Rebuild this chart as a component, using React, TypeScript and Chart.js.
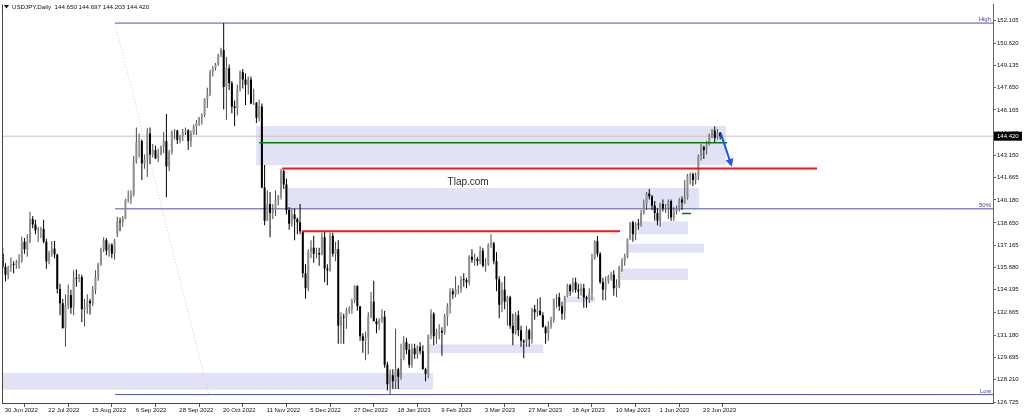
import React, { useEffect, useRef } from 'react';
import { Chart, registerables } from 'chart.js';

Chart.register(...registerables);

// ---- Daily OHLC, 30 Jun 2022 .. 4 Jul 2023 (bar index 0..263) ----
const OPEN: number[] = [
  136.60, 135.72, 135.20, 135.70, 135.90, 135.85, 136.00, 136.10, 137.40, 136.90,
  137.40, 138.90, 138.55, 138.15, 138.20, 138.25, 137.40, 136.10, 136.65, 136.95,
  136.55, 134.25, 133.30, 131.65, 133.15, 133.85, 133.00, 135.00, 134.95, 135.05,
  132.90, 133.00, 133.45, 133.30, 134.20, 135.00, 135.90, 136.90, 137.50, 136.80,
  137.20, 136.60, 137.90, 138.75, 138.70, 138.95, 140.20, 140.25, 140.50, 142.75,
  144.00, 144.10, 142.60, 142.85, 144.60, 143.20, 143.50, 142.95, 143.20, 143.70,
  144.10, 142.40, 143.35, 144.75, 144.80, 144.15, 144.45, 144.70, 144.80, 144.10,
  144.60, 145.10, 145.30, 145.65, 145.80, 146.90, 147.20, 148.70, 148.95, 149.20,
  149.85, 150.15, 147.70, 148.95, 147.95, 146.40, 146.30, 147.55, 148.70, 148.20,
  147.85, 148.20, 146.60, 146.65, 145.65, 146.40, 141.00, 138.80, 139.90, 139.30,
  139.50, 140.20, 140.40, 142.10, 141.20, 139.50, 138.60, 139.20, 138.90, 138.70,
  138.10, 135.30, 134.30, 136.70, 137.00, 136.60, 136.65, 136.55, 137.70, 135.60,
  135.50, 137.80, 136.60, 136.90, 131.80, 132.40, 132.35, 132.80, 132.90, 133.50,
  134.45, 133.10, 131.10, 130.80, 131.00, 132.40, 133.40, 132.10, 131.90, 132.20,
  132.40, 129.20, 127.90, 128.50, 128.10, 128.90, 128.40, 129.60, 130.70, 130.20,
  129.20, 130.30, 129.90, 130.40, 130.10, 128.90, 128.60, 131.20, 132.60, 131.10,
  131.40, 131.45, 131.35, 132.40, 133.10, 134.10, 133.90, 134.20, 134.25, 134.90,
  134.85, 134.70, 136.40, 136.20, 136.25, 136.10, 136.80, 135.80, 135.90, 137.20,
  137.30, 136.10, 134.90, 133.20, 134.20, 133.40, 133.70, 131.80, 131.30, 132.50,
  131.50, 130.80, 130.70, 131.50, 130.90, 132.90, 132.70, 132.80, 132.50, 131.70,
  131.30, 131.80, 132.20, 133.60, 133.70, 133.10, 132.60, 133.75, 134.50, 134.10,
  134.70, 134.20, 134.10, 134.30, 133.70, 133.60, 133.90, 136.30, 137.45, 136.60,
  134.70, 134.20, 134.80, 135.10, 135.20, 134.30, 134.50, 135.70, 136.10, 136.40,
  137.60, 138.70, 137.90, 138.60, 138.55, 139.30, 139.90, 140.60, 140.40, 139.80,
  139.30, 138.80, 139.90, 139.60, 139.65, 140.10, 139.00, 139.40, 139.60, 140.20,
  140.00, 140.30, 141.80, 141.90, 141.50, 141.80, 143.10, 143.70, 143.50, 143.90,
  144.50, 144.80, 144.30, 144.65,
];
const HIGH: number[] = [
  136.99, 135.96, 135.80, 136.35, 136.10, 136.20, 136.57, 137.75, 137.65, 137.90,
  139.39, 139.10, 138.85, 138.40, 138.40, 138.85, 137.60, 136.80, 137.45, 137.45,
  136.60, 134.60, 133.60, 133.90, 134.55, 134.20, 135.50, 135.55, 135.25, 135.20,
  133.60, 133.90, 133.60, 134.45, 135.50, 136.00, 137.00, 137.70, 137.65, 137.30,
  137.30, 137.60, 139.05, 139.00, 139.10, 140.25, 140.80, 140.80, 143.10, 145.00,
  144.60, 144.20, 143.20, 144.95, 145.00, 143.90, 143.80, 143.60, 143.80, 144.70,
  145.90, 143.50, 144.80, 144.90, 144.85, 144.50, 144.90, 145.00, 144.90, 144.80,
  145.20, 145.50, 145.70, 145.95, 146.95, 147.65, 148.85, 149.10, 149.30, 149.90,
  150.30, 151.95, 149.70, 149.20, 148.10, 146.80, 147.85, 148.80, 148.90, 148.60,
  148.40, 148.40, 147.60, 146.70, 146.85, 146.60, 142.50, 140.80, 140.70, 139.90,
  140.80, 140.50, 142.25, 142.20, 141.60, 139.70, 139.60, 139.60, 139.00, 139.90,
  138.10, 135.90, 136.90, 137.50, 137.80, 137.00, 137.00, 138.00, 138.10, 135.90,
  138.00, 138.00, 137.40, 137.50, 132.70, 132.60, 133.00, 133.10, 133.60, 134.50,
  134.50, 133.10, 131.30, 131.40, 132.70, 134.05, 134.80, 132.30, 132.30, 132.90,
  132.80, 129.40, 128.90, 128.90, 131.60, 129.00, 130.60, 131.10, 131.00, 130.60,
  130.60, 130.60, 130.50, 130.70, 130.50, 129.00, 131.20, 132.90, 132.70, 131.60,
  131.90, 131.70, 132.60, 133.30, 134.30, 134.30, 135.10, 134.50, 135.10, 135.30,
  135.00, 136.50, 136.90, 136.60, 136.40, 137.10, 137.00, 136.30, 137.30, 137.90,
  137.40, 136.70, 135.10, 134.70, 135.10, 133.80, 133.80, 132.60, 132.70, 132.80,
  131.80, 130.90, 131.80, 131.60, 133.00, 133.20, 133.60, 133.70, 132.70, 131.80,
  132.10, 132.40, 133.60, 133.90, 134.00, 133.40, 133.80, 134.60, 134.60, 135.00,
  135.00, 134.60, 134.60, 134.60, 133.80, 134.30, 136.60, 137.50, 137.78, 136.70,
  135.00, 135.10, 135.20, 135.40, 135.50, 134.90, 135.80, 136.30, 136.60, 137.60,
  138.70, 138.80, 138.70, 138.90, 139.50, 140.20, 140.70, 140.90, 140.50, 140.10,
  139.60, 140.00, 140.20, 139.90, 140.20, 140.20, 139.70, 139.80, 140.30, 140.40,
  141.50, 141.90, 142.00, 142.00, 142.00, 143.20, 143.90, 143.80, 144.10, 144.60,
  144.90, 145.07, 144.90, 144.697,
];
const LOW: number[] = [
  135.55, 134.75, 134.90, 135.40, 135.30, 135.60, 135.60, 136.00, 136.60, 136.40,
  137.30, 138.30, 137.90, 137.40, 137.65, 137.30, 135.60, 135.90, 136.40, 136.30,
  133.95, 132.50, 131.60, 130.40, 132.90, 132.60, 132.50, 134.40, 134.70, 132.05,
  131.75, 132.60, 132.55, 133.10, 133.90, 134.80, 135.80, 136.70, 136.50, 136.40,
  136.30, 136.20, 137.70, 138.10, 138.40, 138.90, 140.00, 139.90, 140.40, 142.60,
  143.00, 141.50, 142.25, 141.70, 142.55, 143.00, 142.90, 142.70, 143.15, 143.30,
  140.35, 142.10, 143.20, 144.20, 143.90, 143.95, 144.10, 144.50, 143.50, 143.70,
  144.50, 144.50, 145.10, 145.20, 145.70, 146.30, 147.10, 148.40, 148.80, 149.10,
  149.70, 146.20, 145.50, 147.50, 145.95, 145.10, 145.80, 147.40, 147.60, 146.50,
  147.20, 146.55, 146.50, 145.30, 145.40, 140.95, 138.50, 138.80, 137.70, 138.90,
  139.10, 139.80, 140.20, 140.90, 139.20, 138.20, 138.40, 137.50, 137.90, 137.90,
  135.00, 133.60, 134.10, 136.30, 136.00, 136.30, 135.80, 136.50, 134.70, 134.50,
  135.40, 136.40, 136.10, 130.60, 130.60, 130.60, 131.60, 132.60, 132.60, 133.30,
  132.80, 130.80, 130.00, 129.50, 129.90, 132.30, 132.10, 131.30, 131.50, 132.00,
  129.00, 127.50, 127.22, 127.60, 127.60, 127.60, 128.20, 129.50, 129.90, 129.00,
  129.00, 129.60, 129.60, 129.90, 128.90, 128.10, 128.30, 130.90, 130.50, 130.60,
  130.90, 129.80, 131.20, 131.80, 132.60, 133.60, 133.70, 133.90, 134.00, 134.40,
  134.30, 134.50, 136.00, 135.80, 135.80, 135.90, 135.70, 135.40, 135.80, 137.00,
  135.90, 134.10, 132.30, 132.70, 132.90, 131.80, 131.60, 130.50, 131.20, 131.10,
  130.40, 129.64, 130.40, 130.40, 130.60, 132.20, 132.40, 132.50, 131.70, 130.60,
  130.80, 131.60, 132.00, 133.00, 132.80, 132.20, 132.20, 133.70, 133.80, 134.00,
  134.00, 133.60, 133.80, 133.00, 133.00, 133.30, 133.50, 136.20, 136.40, 134.60,
  133.50, 133.50, 134.60, 134.80, 133.80, 133.70, 134.30, 135.40, 135.80, 136.30,
  137.50, 137.40, 137.50, 138.20, 138.40, 139.20, 139.50, 140.20, 139.50, 138.80,
  138.50, 138.40, 139.40, 139.30, 138.90, 138.80, 138.80, 139.20, 139.40, 139.50,
  139.90, 140.20, 141.20, 141.10, 141.20, 141.50, 142.80, 142.90, 143.20, 143.80,
  144.30, 144.00, 144.20, 144.203,
];
const CLOSE: number[] = [
  135.72, 135.20, 135.70, 135.90, 135.85, 136.00, 136.10, 137.40, 136.90, 137.40,
  138.90, 138.55, 138.15, 138.20, 138.25, 137.40, 136.10, 136.65, 136.95, 136.55,
  134.25, 133.30, 131.65, 133.15, 133.85, 133.00, 135.00, 134.95, 135.05, 132.90,
  133.00, 133.45, 133.30, 134.20, 135.00, 135.90, 136.90, 137.50, 136.80, 137.20,
  136.60, 137.50, 138.75, 138.70, 138.95, 140.20, 140.25, 140.50, 142.75, 144.00,
  144.10, 142.60, 142.85, 144.60, 143.20, 143.50, 142.95, 143.20, 143.70, 144.10,
  142.40, 143.35, 144.75, 144.80, 144.15, 144.45, 144.70, 144.80, 144.10, 144.60,
  145.10, 145.30, 145.65, 145.80, 146.90, 147.20, 148.70, 148.95, 149.20, 149.85,
  150.15, 147.70, 148.95, 147.95, 146.40, 146.30, 147.55, 148.70, 148.20, 147.85,
  148.20, 146.60, 146.65, 145.65, 146.40, 141.00, 138.80, 139.90, 139.30, 139.50,
  140.20, 140.40, 142.10, 141.20, 139.50, 138.60, 139.20, 138.90, 138.70, 138.10,
  135.30, 134.30, 136.70, 137.00, 136.60, 136.65, 136.55, 137.70, 135.60, 135.50,
  137.80, 136.60, 136.90, 131.80, 132.40, 132.35, 132.80, 132.90, 133.50, 134.45,
  133.10, 131.10, 130.80, 131.00, 132.40, 133.40, 132.10, 131.90, 132.20, 132.40,
  129.20, 127.90, 128.50, 128.10, 128.90, 128.40, 129.60, 130.70, 130.20, 129.20,
  130.30, 129.90, 130.40, 130.10, 128.90, 128.60, 131.20, 132.60, 131.10, 131.40,
  131.45, 131.35, 132.40, 133.10, 134.10, 133.90, 134.20, 134.25, 134.90, 134.85,
  134.70, 136.40, 136.20, 136.25, 136.10, 136.80, 135.80, 135.90, 137.20, 137.30,
  136.10, 134.90, 133.20, 134.20, 133.40, 133.70, 131.80, 131.30, 132.50, 131.50,
  130.80, 130.70, 131.50, 130.90, 132.90, 132.70, 132.80, 132.50, 131.70, 131.30,
  131.80, 132.20, 133.60, 133.70, 133.10, 132.60, 133.75, 134.50, 134.10, 134.70,
  134.20, 134.10, 134.30, 133.70, 133.60, 133.90, 136.30, 137.45, 136.60, 134.70,
  134.20, 134.80, 135.10, 135.20, 134.30, 134.50, 135.70, 136.10, 136.40, 137.60,
  138.70, 137.90, 138.60, 138.55, 139.30, 139.90, 140.60, 140.40, 139.80, 139.30,
  138.80, 139.90, 139.60, 139.65, 140.10, 139.00, 139.40, 139.60, 140.20, 140.00,
  140.30, 141.80, 141.90, 141.50, 141.80, 143.10, 143.70, 143.50, 143.90, 144.50,
  144.80, 144.30, 144.65, 144.42,
];

// ---- axis labels ----
const DATE_TICKS: number[] = [0, 16, 32, 48, 64, 80, 96, 112, 128, 144, 160, 176, 192, 208, 224, 240, 256];
const DATE_LABELS: string[] = [
  '30 Jun 2022', '22 Jul 2022', '15 Aug 2022', '6 Sep 2022', '28 Sep 2022', '20 Oct 2022',
  '11 Nov 2022', '5 Dec 2022', '27 Dec 2022', '18 Jan 2023', '9 Feb 2023', '3 Mar 2023',
  '27 Mar 2023', '18 Apr 2023', '10 May 2023', '1 Jun 2023', '23 Jun 2023',
];
const PRICE_TICKS: number[] = [
  152.105, 150.62, 149.135, 147.65, 146.165, 144.635, 143.15, 141.665, 140.18,
  138.65, 137.165, 135.68, 134.195, 132.665, 131.18, 129.695, 128.21, 126.725,
];

const TITLE_TEXT = 'USDJPY,Daily  144.650 144.697 144.203 144.420';
const CURRENT_PRICE = 144.42;

// ---- drawn objects (bar index, price) ----
const FIB_LEVELS: [string, number][] = [['High', 151.95], ['50%', 139.585], ['Low', 127.22]];
const FIB_FROM = 41.2;
const FIB_DIAGONAL: [number, number][] = [[41.2, 151.95], [75.6, 127.22]];
// [fromIndex, toIndex, topPrice, bottomPrice]
const ZONES: [number, number, number, number][] = [
  [92.9, 265.1, 145.10, 142.49],
  [104.2, 255.2, 140.97, 139.62],
  [232.9, 251.2, 138.75, 137.90],
  [228.9, 257.1, 137.26, 136.67],
  [226.6, 251.2, 135.61, 134.84],
  [206.1, 217.1, 133.74, 133.36],
  [155.5, 198.1, 130.56, 129.98],
  [-0.3, 157.7, 128.66, 127.55],
];
// [fromIndex, toIndex, price]
const RED_LINES: [number, number, number][] = [[102.4, 298.5, 142.27], [109.7, 226.3, 138.10]];
const GREEN_LINES: [number, number, number][] = [[94.0, 265.5, 143.98], [249.0, 252.3, 139.27]];
const ARROW: [number, number][] = [[263.2, 144.605], [267.3, 142.38]];
const WATERMARK: { text: string; index: number; price: number } = { text: 'Tlap.com', index: 170.6, price: 141.38 };

const X_MIN = -0.26;
const X_MAX = 363.0;
const Y_MIN = 126.66;
const Y_MAX = 153.18;

const FONT = "'Liberation Sans', Arial, sans-serif";

export default function App() {
  const ref = useRef<HTMLCanvasElement>(null);

  useEffect(() => {
    document.body.style.margin = '0';
    const canvas = ref.current!;
    const idx = CLOSE.map((_, i) => i);
    const wickData = idx.map((i) => ({ x: i, y: [LOW[i], HIGH[i]] }));
    const bodyData = idx.map((i) => ({ x: i, y: [OPEN[i], CLOSE[i]] }));
    const bodyColors = idx.map((i) => (CLOSE[i] >= OPEN[i] ? '#8e8e8e' : '#000000'));
    const wickColors = idx.map((i) => (CLOSE[i] >= OPEN[i] ? '#4a4a4a' : '#000000'));

    const hLine = (a: number, b: number, p: number) => [{ x: a, y: p }, { x: b, y: p }];
    const lineDs = (data: any[], color: string, width: number, order: number, dash: number[] = []) => ({
      type: 'line' as const,
      data,
      borderColor: color,
      borderWidth: width,
      borderDash: dash,
      pointRadius: 0,
      fill: false,
      tension: 0,
      order,
    });

    const datasets: any[] = [
      lineDs(hLine(X_MIN, X_MAX, CURRENT_PRICE), '#c4c4c4', 1, 10),
      ...FIB_LEVELS.map(([, p]) => lineDs(hLine(FIB_FROM, X_MAX, p), '#5050ac', 1, 9)),
      lineDs(FIB_DIAGONAL.map(([i, p]) => ({ x: i, y: p })), '#ffb4c6', 1, 9, [1, 2]),
      {
        type: 'bar',
        data: wickData,
        backgroundColor: wickColors,
        barThickness: 1,
        grouped: false,
        inflateAmount: 0,
        order: 5,
      },
      {
        type: 'bar',
        data: bodyData,
        backgroundColor: bodyColors,
        barThickness: 2,
        grouped: false,
        inflateAmount: 0,
        order: 4,
      },
      ...GREEN_LINES.map(([a, b, p]) => lineDs(hLine(a, b, p), '#087a08', 1.5, 2)),
      ...RED_LINES.map(([a, b, p]) => lineDs(hLine(a, b, p), '#f01818', 2, 2)),
    ];

    const overlay = {
      id: 'overlay',
      beforeDatasetsDraw(chart: any) {
        const { ctx, chartArea: a, scales } = chart;
        const x = scales.x, y = scales.y;
        ctx.save();
        ctx.beginPath();
        ctx.rect(a.left, a.top, a.right - a.left, a.bottom - a.top);
        ctx.clip();
        ctx.fillStyle = '#e2e2f6';
        ZONES.forEach(([i1, i2, p1, p2]) => {
          const x1 = x.getPixelForValue(i1);
          const x2 = x.getPixelForValue(i2);
          const y1 = y.getPixelForValue(p1);
          const y2 = y.getPixelForValue(p2);
          ctx.fillRect(x1, Math.min(y1, y2), x2 - x1, Math.abs(y2 - y1));
        });
        ctx.restore();
      },
      afterDatasetsDraw(chart: any) {
        const { ctx, chartArea: a, scales } = chart;
        const x = scales.x, y = scales.y;
        ctx.save();
        // arrow
        const x0 = x.getPixelForValue(ARROW[0][0]);
        const y0 = y.getPixelForValue(ARROW[0][1]);
        const x1 = x.getPixelForValue(ARROW[1][0]);
        const y1 = y.getPixelForValue(ARROW[1][1]);
        const ang = Math.atan2(y1 - y0, x1 - x0);
        const head = 8;
        ctx.strokeStyle = '#1c55f2';
        ctx.fillStyle = '#1c55f2';
        ctx.lineWidth = 2;
        ctx.beginPath();
        ctx.moveTo(x0, y0);
        ctx.lineTo(x1 - Math.cos(ang) * head * 0.7, y1 - Math.sin(ang) * head * 0.7);
        ctx.stroke();
        ctx.beginPath();
        ctx.moveTo(x1, y1);
        ctx.lineTo(x1 - Math.cos(ang) * head + Math.sin(ang) * 4, y1 - Math.sin(ang) * head - Math.cos(ang) * 4);
        ctx.lineTo(x1 - Math.cos(ang) * head - Math.sin(ang) * 4, y1 - Math.sin(ang) * head + Math.cos(ang) * 4);
        ctx.closePath();
        ctx.fill();

        // watermark
        ctx.fillStyle = '#2a2a2a';
        ctx.font = `10px ${FONT}`;
        ctx.textAlign = 'center';
        ctx.textBaseline = 'middle';
        ctx.fillText(WATERMARK.text, x.getPixelForValue(WATERMARK.index), y.getPixelForValue(WATERMARK.price));

        // fibo level labels
        ctx.fillStyle = '#4040a8';
        ctx.font = `6px ${FONT}`;
        ctx.textAlign = 'right';
        ctx.textBaseline = 'bottom';
        FIB_LEVELS.forEach(([name, p]) => {
          ctx.fillText(name, a.right - 2, y.getPixelForValue(p) - 0.5);
        });

        // title
        ctx.fillStyle = '#111';
        ctx.beginPath();
        ctx.moveTo(4, 5);
        ctx.lineTo(9, 5);
        ctx.lineTo(6.5, 8.5);
        ctx.closePath();
        ctx.fill();
        ctx.font = `6.2px ${FONT}`;
        ctx.textAlign = 'left';
        ctx.textBaseline = 'middle';
        ctx.fillText(TITLE_TEXT, 12, 7);

        // left frame
        ctx.strokeStyle = '#444';
        ctx.lineWidth = 1;
        ctx.beginPath();
        ctx.moveTo(a.left + 0.5, a.top);
        ctx.lineTo(a.left + 0.5, a.bottom);
        ctx.stroke();
        ctx.restore();
      },
      afterDraw(chart: any) {
        const { ctx, chartArea: a, scales } = chart;
        const yy = scales.y.getPixelForValue(CURRENT_PRICE);
        ctx.save();
        ctx.fillStyle = '#000';
        ctx.fillRect(a.right + 1, yy - 4.5, 28, 9);
        ctx.fillStyle = '#fff';
        ctx.font = `6px ${FONT}`;
        ctx.textAlign = 'left';
        ctx.textBaseline = 'middle';
        ctx.fillText(CURRENT_PRICE.toFixed(3), a.right + 4, yy + 0.5);
        ctx.restore();
      },
    };

    const chart = new Chart(canvas, {
      type: 'bar',
      data: { datasets },
      options: {
        animation: false,
        responsive: false,
        maintainAspectRatio: false,
        events: [],
        layout: { padding: { left: 2, top: 2, right: 0, bottom: 0 } },
        plugins: { legend: { display: false }, tooltip: { enabled: false } },
        scales: {
          x: {
            type: 'linear',
            min: X_MIN,
            max: X_MAX,
            offset: false,
            afterBuildTicks: (s: any) => {
              s.ticks = DATE_TICKS.map((v) => ({ value: v }));
            },
            afterFit: (s: any) => {
              s.height = 15;
            },
            ticks: {
              autoSkip: false,
              maxRotation: 0,
              align: 'start',
              labelOffset: 2,
              padding: 0,
              color: '#111',
              font: { family: FONT, size: 6 },
              callback: (v: any) => {
                const k = DATE_TICKS.indexOf(Number(v));
                return k >= 0 ? DATE_LABELS[k] : '';
              },
            },
            grid: { drawOnChartArea: false, drawTicks: true, tickLength: 4, color: '#555' },
            border: { display: true, color: '#444', width: 1 },
          },
          y: {
            type: 'linear',
            position: 'right',
            min: Y_MIN,
            max: Y_MAX,
            afterBuildTicks: (s: any) => {
              s.ticks = PRICE_TICKS.map((v) => ({ value: v }));
            },
            afterFit: (s: any) => {
              s.width = 31;
            },
            ticks: {
              padding: 1,
              color: '#111',
              font: { family: FONT, size: 6 },
              callback: (v: any) => Number(v).toFixed(3),
            },
            grid: { drawOnChartArea: false, drawTicks: true, tickLength: 3, color: '#666' },
            border: { display: true, color: '#666', width: 1 },
          },
        },
      } as any,
      plugins: [overlay],
    });

    return () => chart.destroy();
  }, []);

  return (
    <div style={{ width: 1024, height: 418, background: '#fff' }}>
      <canvas ref={ref} width={1024} height={418} style={{ display: 'block' }} />
    </div>
  );
}
